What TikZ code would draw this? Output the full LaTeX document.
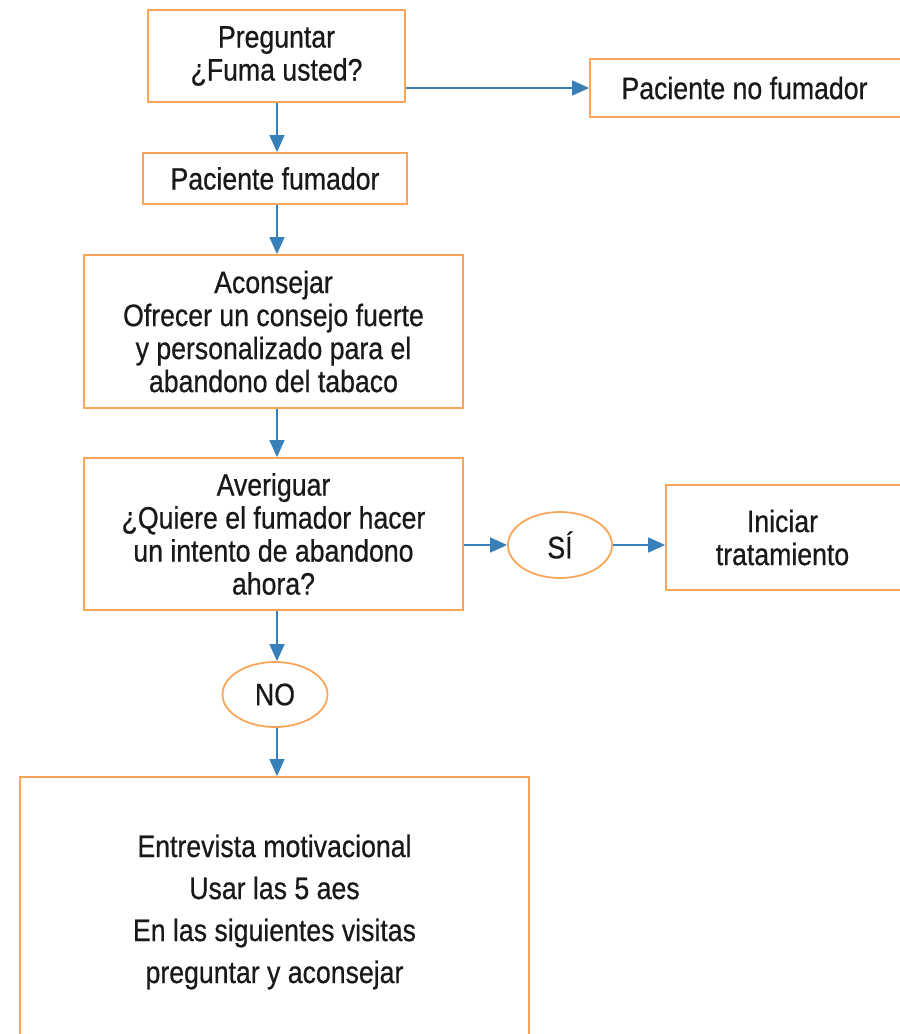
\documentclass[tikz,border=0pt]{standalone}
\usepackage{fontspec}
\setmainfont{Liberation Sans}[FakeStretch=0.86, FakeBold=0.6]
\usetikzlibrary{arrows.meta,shapes.geometric}
\definecolor{boxorange}{RGB}{249,166,90}
\definecolor{arrowblue}{RGB}{56,128,186}
\tikzset{
  box/.style={draw=boxorange, line width=1.8pt, rectangle, inner sep=0pt, align=center,
    font=\fontsize{31}{33}\selectfont, text=black!90},
  oval/.style={draw=boxorange, line width=1.8pt, ellipse, inner sep=0pt,
    font=\fontsize{31}{33}\selectfont, text=black!90},
  conn/.style={draw=arrowblue, line width=1.6pt, -{Triangle[length=17pt,width=15pt]}}
}
\begin{document}
\begin{tikzpicture}[x=1pt,y=-1pt]
\useasboundingbox (0,0) rectangle (900,1034);
\node[box, minimum width=257pt, minimum height=92pt] (pre) at (276.5,56) {Preguntar\\¿Fuma usted?};
\node[box, minimum width=320pt, minimum height=58pt] (nof) at (750,88) {\kern-11pt Paciente no fumador};
\node[box, minimum width=264pt, minimum height=51pt] (fum) at (275,178.5) {Paciente fumador};
\node[box, minimum width=379pt, minimum height=153pt] (aco) at (273.5,331.5) {Aconsejar\\Ofrecer un consejo fuerte\\y personalizado para el\\abandono del tabaco};
\node[box, minimum width=379pt, minimum height=152pt] (ave) at (273.5,534) {Averiguar\\¿Quiere el fumador hacer\\un intento de abandono\\ahora?};
\node[oval, minimum width=104pt, minimum height=66pt] (si) at (560,545) {SÍ};
\node[box, minimum width=244pt, minimum height=105pt] (ini) at (788,537.5) {\kern-11pt Iniciar\\\kern-11pt tratamiento};
\node[oval, minimum width=105pt, minimum height=65pt] (no) at (275,694.5) {NO};
\node[box, minimum width=509pt, minimum height=270pt, font=\fontsize{31}{42}\selectfont] (ent) at (274.5,912) {Entrevista motivacional\\Usar las 5 aes\\En las siguientes visitas\\preguntar y aconsejar};
\coordinate (c1) at (277,0);
\draw[conn] (pre.south -| c1) -- (fum.north -| c1);
\draw[conn] (pre.east |- nof.west) -- (nof.west);
\draw[conn] (fum.south -| c1) -- (aco.north -| c1);
\draw[conn] (aco.south -| c1) -- (ave.north -| c1);
\draw[conn] (ave.east |- si.west) -- (si.west);
\draw[conn] (si.east) -- (ini.west |- si.east);
\draw[conn] (ave.south -| c1) -- (no.north -| c1);
\draw[conn] (no.south -| c1) -- (ent.north -| c1);
\end{tikzpicture}
\end{document}
